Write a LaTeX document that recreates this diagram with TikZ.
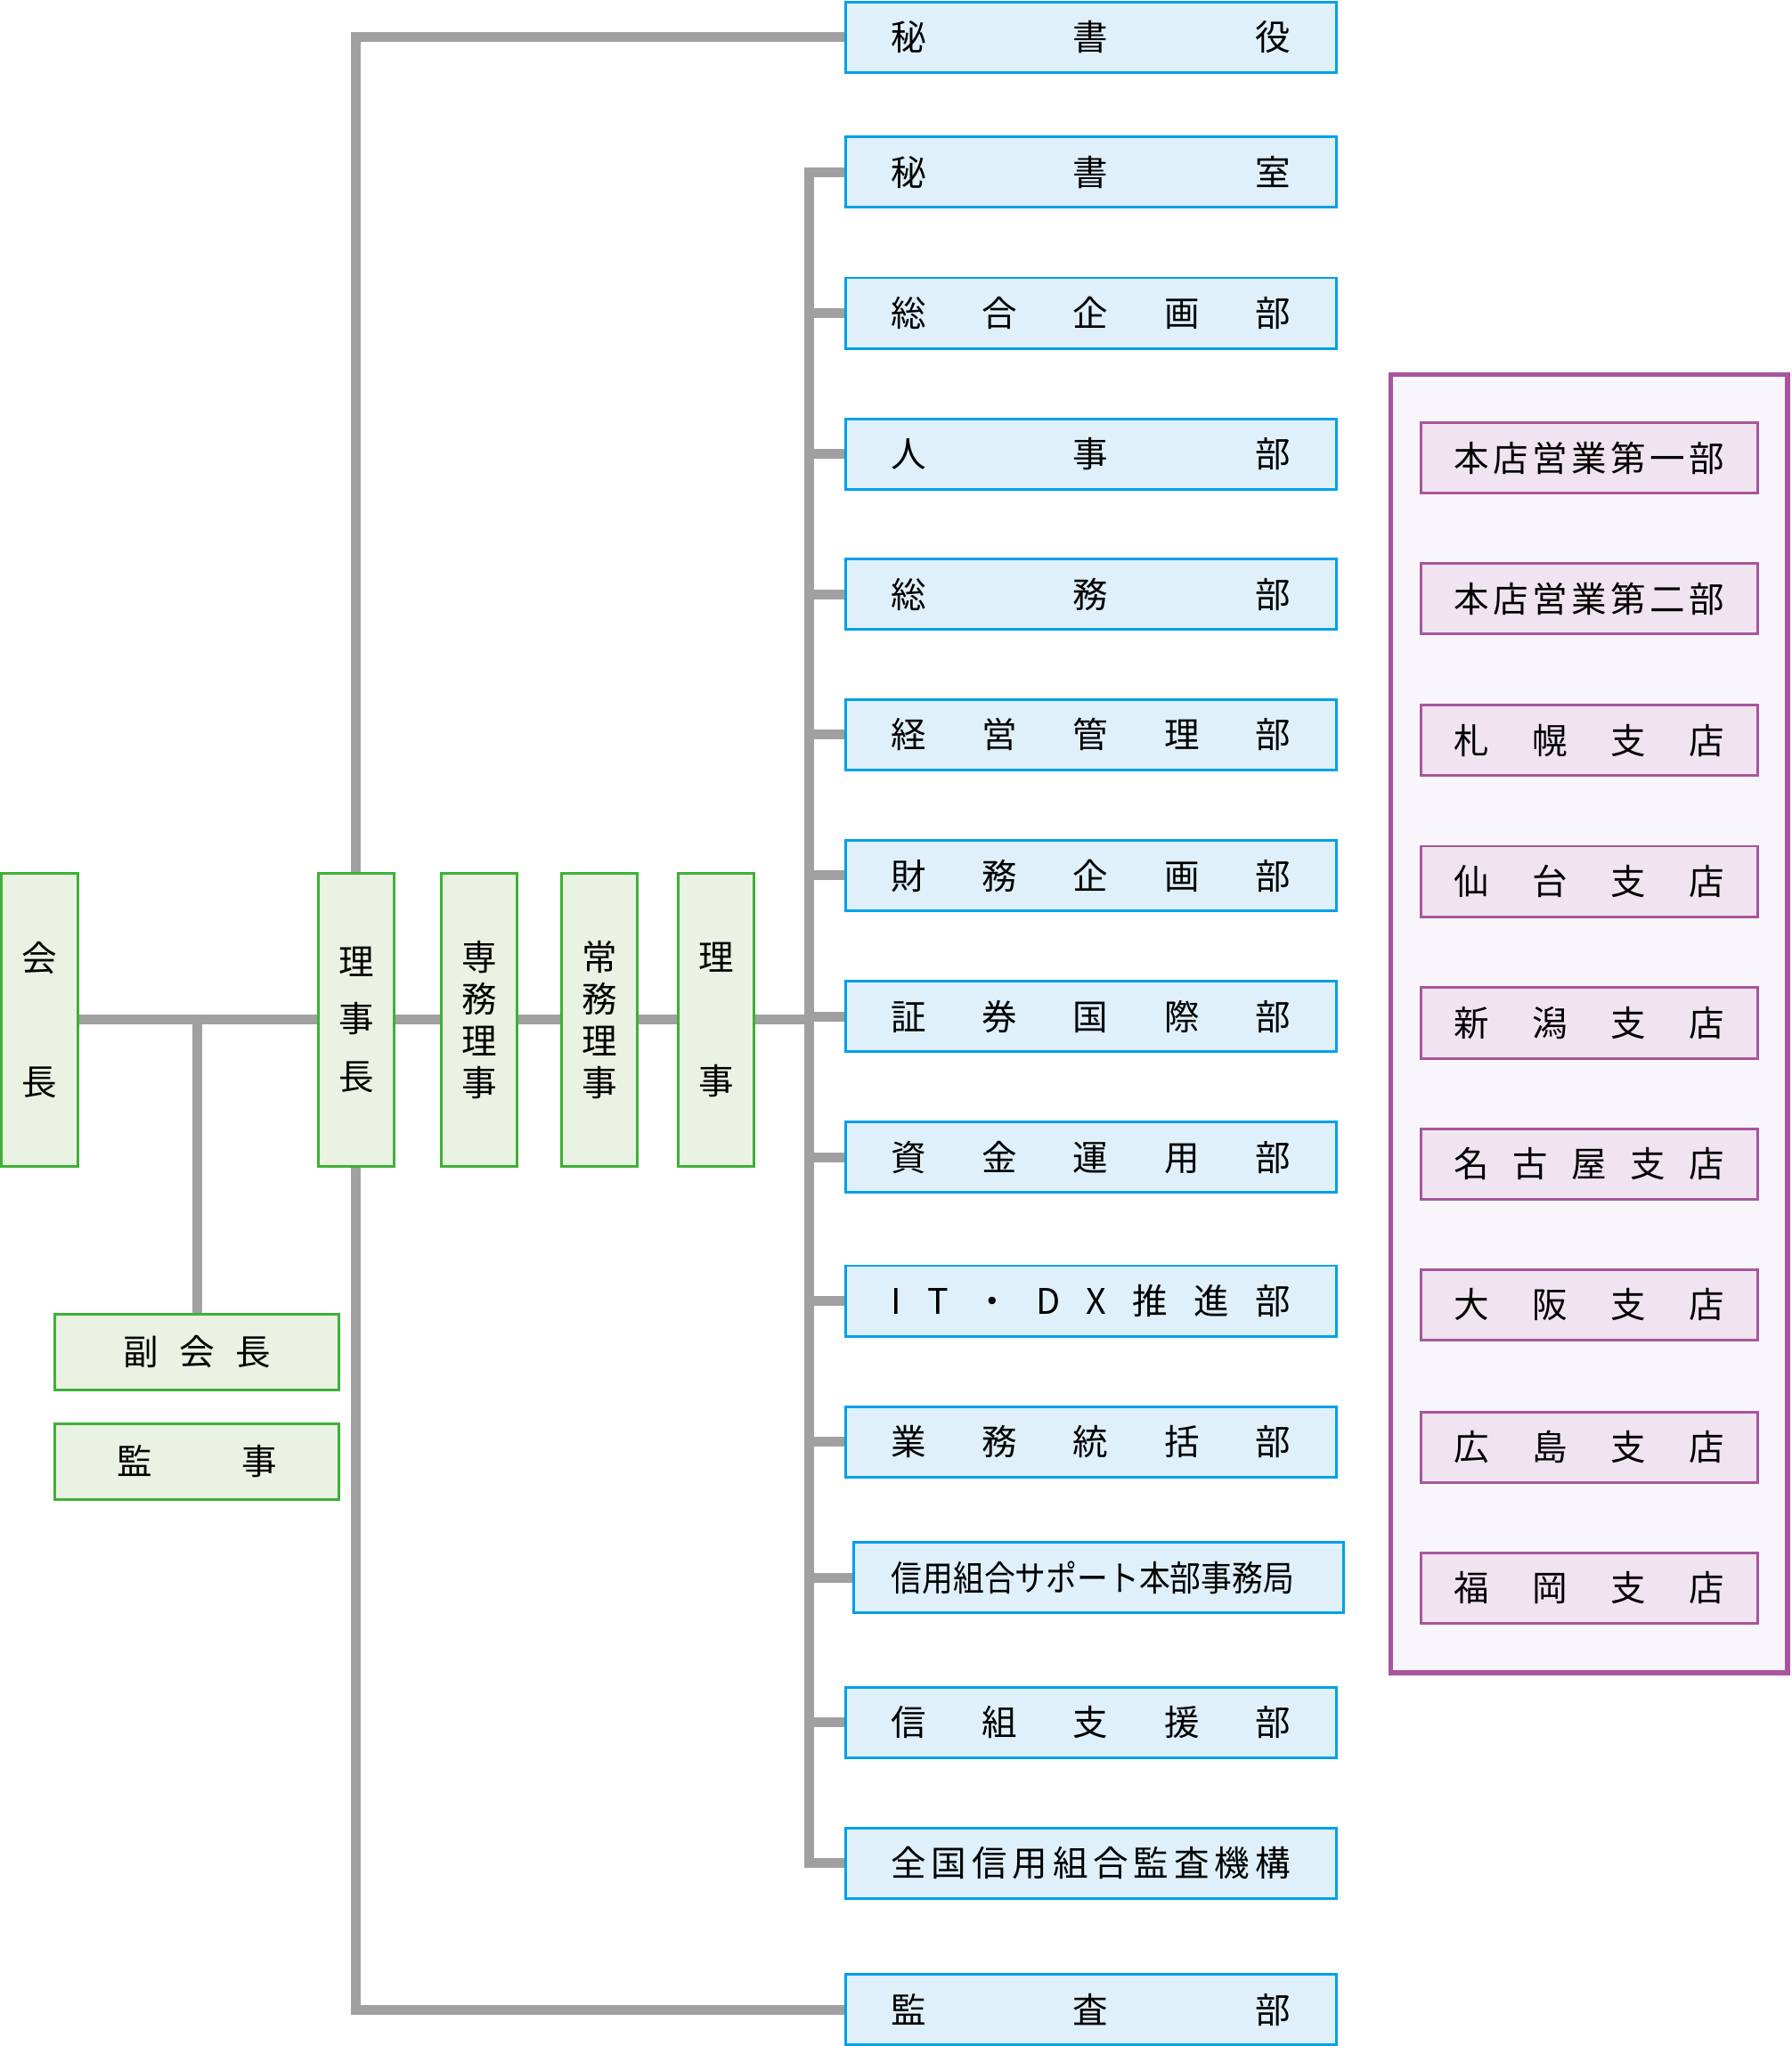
\documentclass[tikz,border=0pt]{standalone}
\usepackage{fontspec}
\setmainfont{Noto Sans CJK JP}
\usetikzlibrary{positioning, backgrounds}

\definecolor{linegray}{HTML}{A0A0A0}
\definecolor{offgreen}{HTML}{3DB135}
\definecolor{offfill}{HTML}{E9F2E3}
\definecolor{deptblue}{HTML}{00A0E9}
\definecolor{deptfill}{HTML}{DFF0FA}
\definecolor{brpurple}{HTML}{A8559E}
\definecolor{brfill}{HTML}{F0E4F0}
\definecolor{grpfill}{HTML}{F8F6FA}

\newcommand{\dtext}[1]{\makebox[306pt]{#1}}
\newcommand{\btext}[1]{\makebox[207pt]{#1}}

\begin{document}
\begin{tikzpicture}[x=1pt, y=-1pt,
					font=\fontsize{27pt}{32pt}\selectfont,
					officer/.style={rectangle, draw=offgreen, fill=offfill, line width=2pt, inner sep=0pt, align=center},
					tall/.style={officer, minimum width=58pt, minimum height=225pt},
					dept/.style={rectangle, draw=deptblue, fill=deptfill, line width=2pt, minimum width=376pt, minimum height=54pt, inner sep=0pt},
					branch/.style={rectangle, draw=brpurple, fill=brfill, line width=2pt, minimum width=258pt, minimum height=54pt, inner sep=0pt},
					conn/.style={draw=linegray, line width=7.5pt}
					]
					\useasboundingbox (0,0) rectangle (1373,1568);
					
					% officers
					\node (kaicho) [tall, minimum width=59pt] at (30.5,781.5) {会\\[63pt]長};
					\node (richo) [tall] at (273,781.5) {理\\[12pt]事\\[12pt]長};
					\node (senmu) [tall] at (367.5,781.5) {専\\務\\理\\事};
					\node (jomu) [tall] at (459.5,781.5) {常\\務\\理\\事};
					\node (riji) [tall] at (549,781.5) {理\\[63pt]事};
					\node (fuku) [officer, minimum width=218pt, minimum height=58pt] at (151,1036) {\makebox[113pt]{副\hfill 会\hfill 長}};
					\node (kanji) [officer, minimum width=218pt, minimum height=58pt] at (151,1120) {\makebox[123pt]{監\hfill 事}};
					
					% departments
					\node (hishoyaku) [dept] at (836,28.5) {\dtext{秘\hfill 書\hfill 役}};
					\node (hishoshitsu) [dept] at (836,132) {\dtext{秘\hfill 書\hfill 室}};
					\node (sogo) [dept] at (836,240) {\dtext{総\hfill 合\hfill 企\hfill 画\hfill 部}};
					\node (jinji) [dept] at (836,348) {\dtext{人\hfill 事\hfill 部}};
					\node (somu) [dept] at (836,455.5) {\dtext{総\hfill 務\hfill 部}};
					\node (keiei) [dept] at (836,563) {\dtext{経\hfill 営\hfill 管\hfill 理\hfill 部}};
					\node (zaimu) [dept] at (836,671) {\dtext{財\hfill 務\hfill 企\hfill 画\hfill 部}};
					\node (shoken) [dept] at (836,779) {\dtext{証\hfill 券\hfill 国\hfill 際\hfill 部}};
					\node (shikin) [dept] at (836,887) {\dtext{資\hfill 金\hfill 運\hfill 用\hfill 部}};
					\node (itdx) [dept] at (836,997) {\dtext{I\hfill T\hfill ・\hfill D\hfill X\hfill 推\hfill 進\hfill 部}};
					\node (gyomu) [dept] at (836,1105) {\dtext{業\hfill 務\hfill 統\hfill 括\hfill 部}};
					\node (support) [dept] at (842,1209) {\hspace*{-9pt}\scalebox{0.88}[1]{信用組合サポート本部事務局}};
					\node (shinso) [dept] at (836,1320) {\dtext{信\hfill 組\hfill 支\hfill 援\hfill 部}};
					\node (zenkoku) [dept] at (836,1428) {\dtext{全\hfill 国\hfill 信\hfill 用\hfill 組\hfill 合\hfill 監\hfill 査\hfill 機\hfill 構}};
					\node (kansabu) [dept] at (836,1540) {\dtext{監\hfill 査\hfill 部}};
					
					% branches
					\node (shiten) [rectangle, draw=brpurple, fill=grpfill, line width=3.5pt, minimum width=304pt, minimum height=995pt] at (1218,784.5) {};
					\node (honten1) [branch] at (1218,351) {\btext{本\hfill 店\hfill 営\hfill 業\hfill 第\hfill 一\hfill 部}};
					\node (honten2) [branch] at (1218,459) {\btext{本\hfill 店\hfill 営\hfill 業\hfill 第\hfill 二\hfill 部}};
					\node (sapporo) [branch] at (1218,567.5) {\btext{札\hfill 幌\hfill 支\hfill 店}};
					\node (sendai) [branch] at (1218,675.5) {\btext{仙\hfill 台\hfill 支\hfill 店}};
					\node (niigata) [branch] at (1218,784) {\btext{新\hfill 潟\hfill 支\hfill 店}};
					\node (nagoya) [branch] at (1218,892) {\btext{名\hfill 古\hfill 屋\hfill 支\hfill 店}};
					\node (osaka) [branch] at (1218,1000) {\btext{大\hfill 阪\hfill 支\hfill 店}};
					\node (hiroshima) [branch] at (1218,1109) {\btext{広\hfill 島\hfill 支\hfill 店}};
					\node (fukuoka) [branch] at (1218,1217) {\btext{福\hfill 岡\hfill 支\hfill 店}};
					
					\coordinate (trunk) at (620,0);
					
					\begin{scope}[on background layer]
						\draw [conn] (kaicho.east) -- (richo.west);
						\draw [conn] (fuku.north) -- (fuku.north |- kaicho.east);
						\draw [conn] (richo.east) -- (senmu.west);
						\draw [conn] (senmu.east) -- (jomu.west);
						\draw [conn] (jomu.east) -- (riji.west);
						\draw [conn] (riji.east) -- (trunk |- riji.east);
						\draw [conn] (richo.north) |- (hishoyaku.west);
						\draw [conn] (richo.south) |- (kansabu.west);
						\draw [conn] (hishoshitsu.west) -| (trunk |- zenkoku.west) -- (zenkoku.west);
						\foreach \d in {sogo, jinji, somu, keiei, zaimu, shoken, shikin, itdx, gyomu, support, shinso}
							\draw [conn] (trunk |- \d.west) -- (\d.west);
					\end{scope}
				\end{tikzpicture}
\end{document}
